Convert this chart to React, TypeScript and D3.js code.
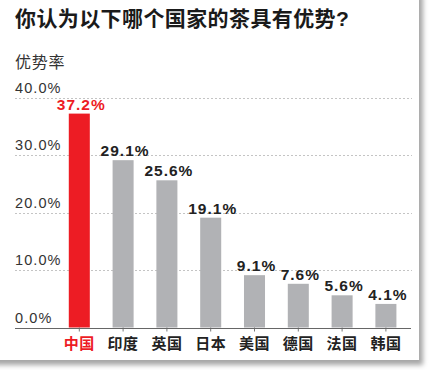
import React from "react";
import * as d3 from "d3";

const title = "你认为以下哪个国家的茶具有优势?";
const yAxisTitle = "优势率";
const categories = ["中国", "印度", "英国", "日本", "美国", "德国", "法国", "韩国"];
const shares = [37.2, 29.1, 25.6, 19.1, 9.1, 7.6, 5.6, 4.1];
const yTicks = [0, 10, 20, 30, 40];
const highlight = "中国";

const W = 429;
const H = 370;
const FONT = "'Liberation Sans', Arial, 'Noto Sans CJK SC', sans-serif";

export default function App() {
  const x = d3
    .scaleBand<string>()
    .domain(categories)
    .range([57.4, 407.8])
    .paddingInner(0.52)
    .paddingOuter(0.26);
  const y = d3.scaleLinear().domain([0, 40]).range([327.5, 97.5]);
  const red = "#ed1c24";
  const gray = "#b1b2b5";

  return (
    <svg
      width={W}
      height={H}
      style={{ position: "absolute", left: 0, top: 0, background: "#fff" }}
      fontFamily={FONT}
    >
      <defs>
        <filter id="sh" x="-5%" y="-5%" width="115%" height="115%">
          <feDropShadow dx="4" dy="5" stdDeviation="2.5" floodColor="#000" floodOpacity="0.35" />
        </filter>
      </defs>
      <rect x={-10} y={-10} width={429} height={370} fill="#fff" filter="url(#sh)" />

      <text x={15} y={26} fontSize={21} fontWeight="bold" fill="#1a1a1a" letterSpacing={0.4}>
        {title}
      </text>
      <text x={15} y={68} fontSize={16} fill="#333" letterSpacing={0.8}>
        {yAxisTitle}
      </text>

      {yTicks.map((t) => (
        <g key={t}>
          {t > 0 && (
            <line
              x1={15}
              x2={412}
              y1={Math.round(y(t)) + 0.5}
              y2={Math.round(y(t)) + 0.5}
              stroke="#c4c4c4"
              strokeWidth={1}
              strokeDasharray="2,2"
            />
          )}
          <text x={15} y={y(t) - 5} fontSize={14.5} fill="#333" letterSpacing={1.1}>
            {t.toFixed(1) + "%"}
          </text>
        </g>
      ))}

      {categories.map((c, i) => {
        const bx = x(c)!;
        const cx = bx + x.bandwidth() / 2;
        const col = c === highlight ? red : gray;
        return (
          <g key={c}>
            <rect x={bx} y={y(shares[i])} width={x.bandwidth()} height={y(0) - y(shares[i])} fill={col} />
            <text
              x={cx + 2}
              y={y(shares[i]) - 4}
              textAnchor="middle"
              fontSize={15.5}
              fontWeight="bold"
              fill={c === highlight ? red : "#222"}
              letterSpacing={1}
            >
              {shares[i].toFixed(1) + "%"}
            </text>
            <line x1={cx} x2={cx} y1={y(0)} y2={y(0) + 4} stroke="#777" strokeWidth={1} />
            <text
              x={cx}
              y={349}
              textAnchor="middle"
              fontSize={15}
              fontWeight="bold"
              fill={c === highlight ? red : "#222"}
              letterSpacing={0.5}
            >
              {c}
            </text>
          </g>
        );
      })}

      <line x1={15} x2={411} y1={Math.round(y(0)) + 0.5} y2={Math.round(y(0)) + 0.5} stroke="#666" strokeWidth={1.2} />
    </svg>
  );
}
